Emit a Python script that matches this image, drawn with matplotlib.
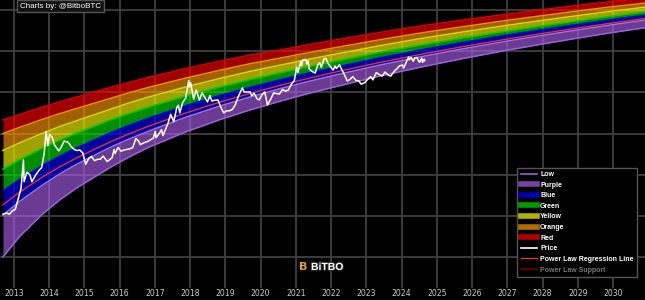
import matplotlib
matplotlib.use('Agg')
import matplotlib.pyplot as plt
import matplotlib.dates as mdates
import matplotlib.patheffects as pe
from matplotlib.lines import Line2D
from matplotlib.ticker import LogLocator, NullFormatter
import pandas as pd

# rainbow band boundaries, log10(USD)
band_dates = ['2012-09-09', '2013-03-04', '2013-10-28', '2014-04-22', '2014-10-16', '2015-09-23',
              '2016-04-17', '2016-11-10', '2017-11-08', '2018-11-06', '2019-09-13', '2020-06-29',
              '2021-04-05', '2022-02-10', '2023-05-22', '2024-07-10', '2025-08-28', '2026-12-08',
              '2027-12-06', '2029-01-23', '2029-11-30', '2030-11-28']
red_top = [3.332, 3.468, 3.648, 3.771, 3.895, 4.119, 4.250, 4.376, 4.578, 4.760, 4.908,
           5.025, 5.146, 5.275, 5.460, 5.613, 5.751, 5.897, 6.006, 6.123, 6.208, 6.295]
orange_top = [3.002, 3.157, 3.351, 3.487, 3.614, 3.854, 4.000, 4.133, 4.345, 4.541, 4.699,
              4.826, 4.952, 5.088, 5.282, 5.443, 5.588, 5.745, 5.860, 5.987, 6.077, 6.171]
yellow_top = [2.591, 2.780, 3.014, 3.174, 3.317, 3.589, 3.752, 3.898, 4.129, 4.342, 4.512,
              4.653, 4.789, 4.930, 5.137, 5.307, 5.460, 5.624, 5.744, 5.875, 5.970, 6.072]
green_top = [2.137, 2.370, 2.654, 2.844, 3.016, 3.327, 3.497, 3.655, 3.908, 4.133, 4.313,
             4.466, 4.612, 4.758, 4.976, 5.151, 5.314, 5.484, 5.610, 5.749, 5.848, 5.958]
blue_top = [1.612, 1.894, 2.234, 2.457, 2.659, 3.016, 3.210, 3.388, 3.674, 3.929, 4.126,
            4.296, 4.452, 4.610, 4.843, 5.030, 5.205, 5.387, 5.518, 5.661, 5.766, 5.877]
purple_top = [1.024, 1.360, 1.760, 2.025, 2.261, 2.666, 2.880, 3.074, 3.393, 3.672, 3.891,
              4.080, 4.248, 4.422, 4.668, 4.865, 5.049, 5.241, 5.379, 5.530, 5.639, 5.758]
low = [0.009, 0.514, 1.056, 1.396, 1.687, 2.178, 2.445, 2.683, 3.036, 3.342, 3.575,
       3.774, 3.954, 4.138, 4.401, 4.612, 4.811, 5.018, 5.168, 5.331, 5.448, 5.574]
regression = [1.273, 1.584, 1.954, 2.197, 2.417, 2.798, 3.004, 3.194, 3.496, 3.767, 3.978,
              4.159, 4.323, 4.494, 4.730, 4.923, 5.102, 5.289, 5.426, 5.574, 5.680, 5.797]

price_dates = [
    '2012-09-09', '2012-10-15', '2012-11-15', '2012-12-15', '2013-01-15', '2013-02-15', '2013-03-15',
    '2013-04-09', '2013-04-16', '2013-05-15', '2013-06-15', '2013-07-05', '2013-08-15', '2013-09-15',
    '2013-10-15', '2013-11-10', '2013-11-30', '2013-12-18', '2014-01-05', '2014-02-01', '2014-02-25',
    '2014-04-10', '2014-05-01', '2014-06-05', '2014-07-15', '2014-08-18', '2014-09-20', '2014-10-15',
    '2014-11-15', '2014-12-15', '2015-01-14', '2015-02-15', '2015-03-15', '2015-04-15', '2015-05-15',
    '2015-06-15', '2015-07-15', '2015-08-24', '2015-09-15', '2015-10-15', '2015-11-04', '2015-11-15',
    '2015-12-15', '2016-01-15', '2016-02-15', '2016-03-15', '2016-04-15', '2016-05-15', '2016-06-17',
    '2016-07-15', '2016-08-02', '2016-09-15', '2016-10-15', '2016-11-15', '2016-12-15', '2017-01-04',
    '2017-01-12', '2017-02-15', '2017-03-10', '2017-03-25', '2017-04-15', '2017-05-15', '2017-06-12',
    '2017-07-15', '2017-08-15', '2017-09-01', '2017-09-15', '2017-10-15', '2017-11-15', '2017-12-17',
    '2017-12-22', '2018-01-06', '2018-02-06', '2018-03-05', '2018-04-06', '2018-05-05', '2018-06-29',
    '2018-07-25', '2018-08-14', '2018-09-15', '2018-10-15', '2018-11-25', '2018-12-15', '2019-01-15',
    '2019-02-15', '2019-03-15', '2019-04-15', '2019-05-15', '2019-06-26', '2019-07-15', '2019-08-15',
    '2019-09-15', '2019-09-30', '2019-10-26', '2019-11-25', '2019-12-17', '2020-01-15', '2020-02-13',
    '2020-03-12', '2020-04-15', '2020-05-15', '2020-06-15', '2020-07-15', '2020-08-15', '2020-09-15',
    '2020-10-15', '2020-11-15', '2020-12-15', '2021-01-08', '2021-01-22', '2021-02-21', '2021-02-28',
    '2021-03-13', '2021-04-14', '2021-04-25', '2021-05-08', '2021-05-19', '2021-06-22', '2021-07-20',
    '2021-08-15', '2021-09-06', '2021-09-21', '2021-10-20', '2021-11-08', '2021-12-04', '2022-01-22',
    '2022-02-10', '2022-02-24', '2022-03-28', '2022-05-12', '2022-06-18', '2022-07-15', '2022-08-14',
    '2022-09-15', '2022-10-15', '2022-11-09', '2022-12-15', '2023-01-15', '2023-02-15', '2023-03-10',
    '2023-04-14', '2023-05-15', '2023-06-15', '2023-07-13', '2023-08-18', '2023-09-11', '2023-10-24',
    '2023-11-15', '2023-12-08', '2024-01-11', '2024-01-23', '2024-02-15', '2024-03-14', '2024-03-20',
    '2024-04-08', '2024-05-01', '2024-05-21', '2024-06-07', '2024-07-05', '2024-07-29', '2024-08-05',
    '2024-08-24', '2024-08-28']
price = [
    11.0, 11.8, 11.0, 13.4, 14.5, 27, 47,
    230, 68, 115, 100, 68, 100, 127,
    150, 330, 1130, 520, 950, 820, 530,
    380, 450, 660, 620, 480, 410, 390,
    400, 340, 180, 250, 280, 220, 238,
    240, 285, 210, 230, 260, 410, 330,
    460, 375, 400, 415, 430, 455, 760,
    660, 540, 610, 640, 710, 780, 1130,
    800, 1010, 1250, 900, 1180, 1750, 2950,
    1950, 4300, 4900, 3200, 5700, 7300, 19300,
    13500, 17200, 6900, 11500, 6600, 9800, 5900,
    8400, 6200, 6500, 6600, 3900, 3200, 3600,
    3600, 3900, 5100, 8000, 12900, 10200, 10300,
    10300, 8300, 9600, 7000, 6600, 8800, 10300,
    5000, 6900, 9700, 9400, 9200, 11800, 10800,
    11500, 16000, 19400, 41000, 30800, 57500, 45000,
    61200, 63500, 49000, 58800, 37000, 32000, 29800,
    47000, 52600, 40600, 66000, 67500, 49000, 35000,
    44000, 38300, 47100, 29000, 19000, 20800, 24300,
    19700, 19100, 15900, 17400, 20900, 24300, 20200,
    30500, 27200, 25100, 31400, 26100, 25100, 34500,
    37800, 44000, 46600, 39500, 51800, 73100, 62000,
    71600, 57800, 70100, 71000, 54000, 68200, 54000,
    64000, 59000]

band_names = ['Red', 'Orange', 'Yellow', 'Green', 'Blue', 'Purple']
fill_colors = ['#ff0000', '#ff9a00', '#ffff00', '#00e000', '#0000ff', '#aa5fea']
edge_colors = ['#d80000', '#e89000', '#d8d800', '#00cc00', '#0000e0', '#a070e0']

bd = pd.to_datetime(band_dates)
pdts = pd.to_datetime(price_dates)
bounds = [[10 ** v for v in b] for b in
          [red_top, orange_top, yellow_top, green_top, blue_top, purple_top, low]]
reg_usd = [10 ** v for v in regression]

fig = plt.figure(figsize=(6.45, 3.0), dpi=100, facecolor='black')
ax = fig.add_axes([0, 0.04, 1, 0.96], facecolor='black')
ax.set_yscale('log')
ax.set_ylim(0.178, 1.766e6)
ax.set_xlim(pd.Timestamp('2012-08-09'), pd.Timestamp('2030-11-28'))

for i in range(6):
    ax.fill_between(bd, bounds[i + 1], bounds[i], color=fill_colors[i], alpha=0.63, lw=0, zorder=2)
    ax.plot(bd, bounds[i], color=edge_colors[i], lw=1.1, zorder=3)
ax.plot(bd, bounds[6], color='#9a60d8', lw=1.1, zorder=3)
ax.plot(bd, reg_usd, color='#e83030', lw=1.0, zorder=4)
ax.plot(pdts, price, color='white', lw=1.1, zorder=5)

ax.xaxis.set_major_locator(mdates.YearLocator())
ax.xaxis.set_major_formatter(mdates.DateFormatter('%Y'))
ax.yaxis.set_major_locator(LogLocator(base=10, numticks=20))
ax.yaxis.set_minor_locator(LogLocator(base=10, subs=[], numticks=20))
ax.yaxis.set_major_formatter(NullFormatter())
ax.grid(True, color='#404040', lw=1.3, zorder=1)
ax.set_axisbelow(True)
ax.tick_params(length=0, colors='#cccccc', labelsize=5.6, pad=1)
for s in ax.spines.values():
    s.set_visible(False)

# legend
handles = [Line2D([], [], color='#9a60d8', lw=1.2)]
for name, c in zip(band_names[::-1], fill_colors[::-1]):
    handles.append(Line2D([], [], color=c, lw=4, alpha=0.7))
handles += [Line2D([], [], color='white', lw=1.2),
            Line2D([], [], color='#e83030', lw=1.0),
            Line2D([], [], color='#700000', lw=1.2)]
labels = ['Low', 'Purple', 'Blue', 'Green', 'Yellow', 'Orange', 'Red', 'Price',
          'Power Law Regression Line', 'Power Law Support']
leg = ax.legend(handles, labels, loc='lower right', bbox_to_anchor=(637 / 645, 23 / 300),
                bbox_transform=fig.transFigure, borderaxespad=0, fancybox=False,
                facecolor='black', edgecolor='#555555', framealpha=1,
                prop={'family': 'Liberation Sans', 'weight': 'bold', 'size': 5.0},
                labelspacing=0.52, handlelength=2.3, handletextpad=0.45, borderpad=0.5)
leg.get_frame().set_linewidth(1.0)
for t in leg.get_texts():
    t.set_color('white')
leg.get_texts()[-1].set_color('#777777')

fig.text(20 / 645, 1 - 6 / 300, 'Charts by: @BitboBTC', color='white', fontsize=5.8,
         family='Liberation Sans', va='center', ha='left',
         bbox=dict(boxstyle='square,pad=0.35', facecolor='#111111', edgecolor='#555555', lw=1))

# watermark
fig.text(303 / 645, 1 - 267 / 300, 'B', color='#e8a020', fontsize=8, fontweight='bold',
         ha='center', va='center')
fig.text(311 / 645, 1 - 267 / 300, 'BiTBO', color='white', fontsize=7.5, fontweight='bold',
         ha='left', va='center', family='Liberation Sans',
         path_effects=[pe.withStroke(linewidth=1.5, foreground='#222222')])

fig.savefig('out.png', dpi=100, facecolor='black')
